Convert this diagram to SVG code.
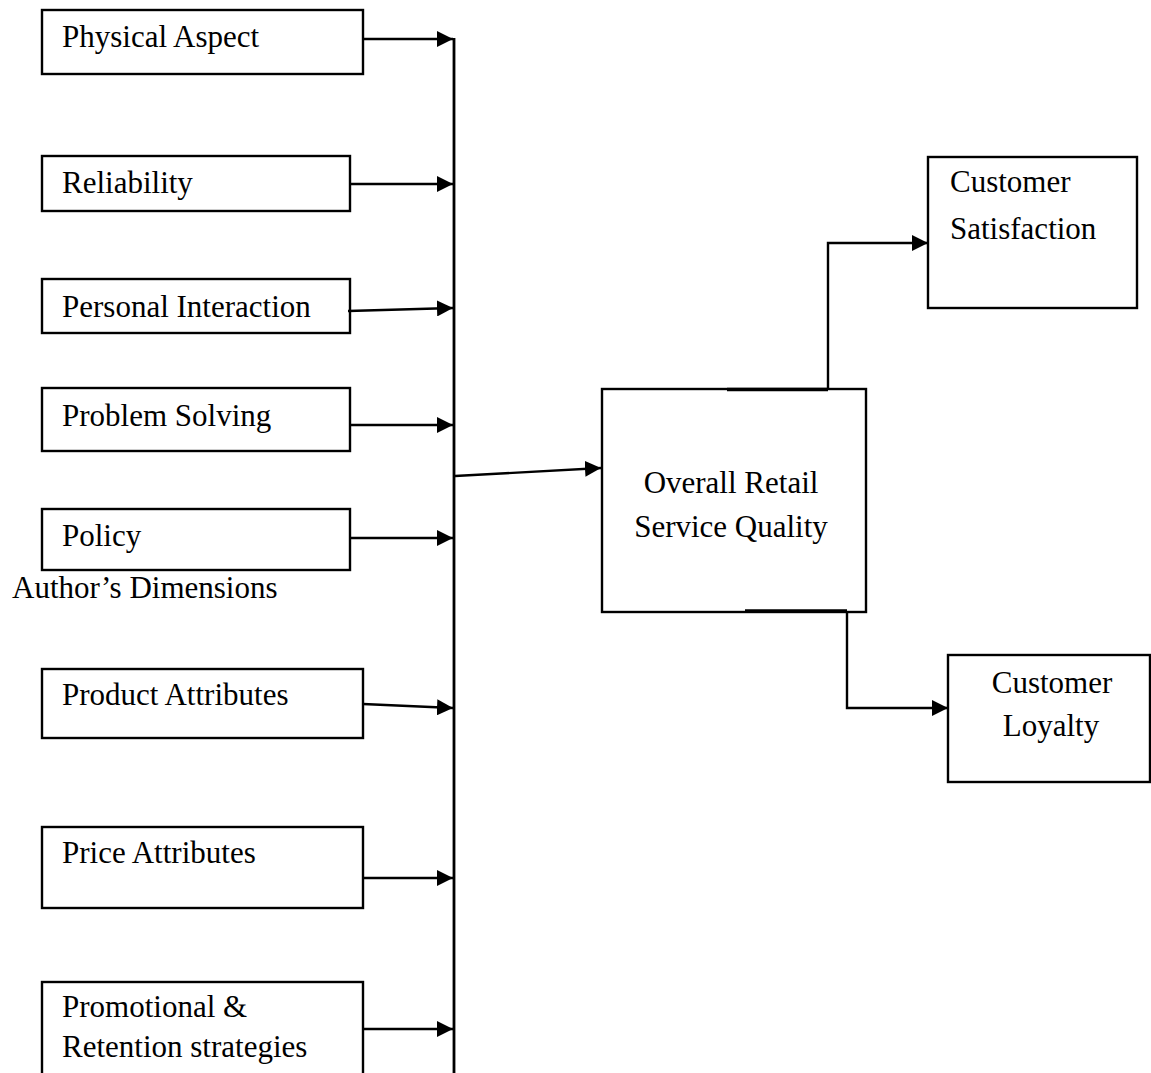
<svg xmlns="http://www.w3.org/2000/svg" width="1151" height="1073" viewBox="0 0 1151 1073">
<style>
.box{fill:#fff;stroke:#000;stroke-width:2.4}
.t{font-family:"Liberation Serif","Times New Roman",serif;font-size:31px;fill:#000}
.c{text-anchor:middle}
.ln{fill:none;stroke:#000;stroke-width:2.4}
</style>
<defs>
<marker id="ah" viewBox="0 0 16 16" refX="16" refY="8" markerWidth="16" markerHeight="16" markerUnits="userSpaceOnUse" orient="auto">
<path d="M0,0 L16,8 L0,16 z" fill="#000"/>
</marker>
</defs>
<rect width="1151" height="1073" fill="#fff"/>
<g id="physical-aspect"><rect class="box" x="42" y="10" width="321" height="64"/><text class="t" x="62" y="47">Physical Aspect</text></g>
<g id="reliability"><rect class="box" x="42" y="156" width="308" height="55"/><text class="t" x="62" y="193">Reliability</text></g>
<g id="personal-interaction"><rect class="box" x="42" y="279" width="308" height="54"/><text class="t" x="62" y="317">Personal Interaction</text></g>
<g id="problem-solving"><rect class="box" x="42" y="388" width="308" height="63"/><text class="t" x="62" y="426">Problem Solving</text></g>
<g id="policy"><rect class="box" x="42" y="509" width="308" height="61"/><text class="t" x="62" y="546">Policy</text></g>
<g id="authors-dimensions"><text class="t" x="12" y="598">Author’s Dimensions</text></g>
<g id="product-attributes"><rect class="box" x="42" y="669" width="321" height="69"/><text class="t" x="62" y="705">Product Attributes</text></g>
<g id="price-attributes"><rect class="box" x="42" y="827" width="321" height="81"/><text class="t" x="62" y="863">Price Attributes</text></g>
<g id="promotional"><rect class="box" x="42" y="982" width="321" height="110"/><text class="t" x="62" y="1017">Promotional &amp;</text><text class="t" x="62" y="1057">Retention strategies</text></g>
<g id="overall-quality"><rect class="box" x="602" y="389" width="264" height="223"/><text class="t c" x="731" y="493">Overall Retail</text><text class="t c" x="731" y="537">Service Quality</text></g>
<g id="customer-satisfaction"><rect class="box" x="928" y="157" width="209" height="151"/><text class="t" x="950" y="192">Customer</text><text class="t" x="950" y="239">Satisfaction</text></g>
<g id="customer-loyalty"><rect class="box" x="948" y="655" width="202" height="127"/><text class="t c" x="1052" y="693">Customer</text><text class="t c" x="1051" y="736">Loyalty</text></g>
<g id="connectors">
<line class="ln" x1="454" y1="38" x2="454" y2="1073" style="stroke-width:2.8"/>
<line class="ln" x1="363" y1="39" x2="453" y2="39" marker-end="url(#ah)"/>
<line class="ln" x1="350" y1="184" x2="453" y2="184" marker-end="url(#ah)"/>
<line class="ln" x1="348" y1="311" x2="453" y2="308" marker-end="url(#ah)"/>
<line class="ln" x1="350" y1="425" x2="453" y2="425" marker-end="url(#ah)"/>
<line class="ln" x1="350" y1="538" x2="453" y2="538" marker-end="url(#ah)"/>
<line class="ln" x1="363" y1="704" x2="453" y2="708" marker-end="url(#ah)"/>
<line class="ln" x1="363" y1="878" x2="453" y2="878" marker-end="url(#ah)"/>
<line class="ln" x1="363" y1="1029" x2="453" y2="1029" marker-end="url(#ah)"/>
<line class="ln" x1="455" y1="476" x2="601" y2="468" marker-end="url(#ah)"/>
<line class="ln" x1="727" y1="389.5" x2="828" y2="389.5" style="stroke-width:3.6"/>
<polyline class="ln" points="828,389 828,243 928,243" marker-end="url(#ah)"/>
<line class="ln" x1="745" y1="611" x2="847" y2="611" style="stroke-width:3.6"/>
<polyline class="ln" points="847,611 847,708 948,708" marker-end="url(#ah)"/>
</g>
</svg>
